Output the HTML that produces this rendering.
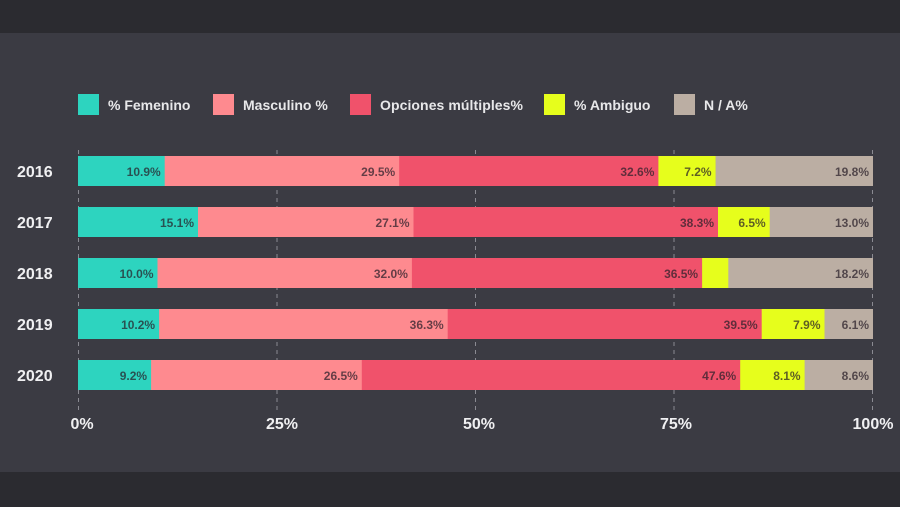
<!DOCTYPE html>
<html><head><meta charset="utf-8"><style>
html,body{margin:0;padding:0;background:#2b2b30;}
svg{display:block;font-family:"Liberation Sans",Arial,sans-serif;}
</style></head><body>
<svg width="900" height="507" viewBox="0 0 900 507">
<rect width="900" height="507" fill="#2b2b30"/>
<rect x="0" y="33" width="900" height="439" fill="#3b3b43"/>
<g font-size="14" font-weight="bold" fill="#e8e8ea">
<rect x="78" y="94" width="21" height="21" fill="#2dd4bf"/><text x="108" y="110">% Femenino</text>
<rect x="213" y="94" width="21" height="21" fill="#fe8a8f"/><text x="243" y="110">Masculino %</text>
<rect x="350" y="94" width="21" height="21" fill="#f0526b"/><text x="380" y="110" textLength="143">Opciones múltiples%</text>
<rect x="544" y="94" width="21" height="21" fill="#e6fe1c"/><text x="574" y="110">% Ambiguo</text>
<rect x="674" y="94" width="21" height="21" fill="#bbaea3"/><text x="704" y="110">N / A%</text>
</g>
<g stroke="#8a8a92" stroke-width="1" stroke-dasharray="4,4">
<line x1="78.5" y1="150" x2="78.5" y2="410"/><line x1="277" y1="150" x2="277" y2="410"/>
<line x1="475.5" y1="150" x2="475.5" y2="410"/><line x1="674" y1="150" x2="674" y2="410"/>
<line x1="872.5" y1="150" x2="872.5" y2="410"/>
</g>
<g font-size="16" font-weight="bold" fill="#f0f0f2" text-anchor="middle">
<text x="82" y="429">0%</text><text x="282" y="429">25%</text><text x="479" y="429">50%</text><text x="676" y="429">75%</text><text x="873" y="429">100%</text>
</g>
<g font-size="16" font-weight="bold" fill="#f0f0f2">
<text x="17" y="177">2016</text><text x="17" y="228">2017</text><text x="17" y="279">2018</text><text x="17" y="330">2019</text><text x="17" y="381">2020</text>
</g>
<g>
<rect x="78" y="156" width="87" height="30" fill="#2dd4bf"/><rect x="164.7" y="156" width="235" height="30" fill="#fe8a8f"/><rect x="399.2" y="156" width="259.5" height="30" fill="#f0526b"/><rect x="658.4" y="156" width="57.5" height="30" fill="#e6fe1c"/><rect x="715.6" y="156" width="157.4" height="30" fill="#bbaea3"/>
<rect x="78" y="207" width="120.5" height="30" fill="#2dd4bf"/><rect x="198" y="207" width="216" height="30" fill="#fe8a8f"/><rect x="413.5" y="207" width="305" height="30" fill="#f0526b"/><rect x="718" y="207" width="52" height="30" fill="#e6fe1c"/><rect x="769.7" y="207" width="103.3" height="30" fill="#bbaea3"/>
<rect x="78" y="258" width="80" height="30" fill="#2dd4bf"/><rect x="157.5" y="258" width="255" height="30" fill="#fe8a8f"/><rect x="411.9" y="258" width="290.5" height="30" fill="#f0526b"/><rect x="702.1" y="258" width="26.5" height="30" fill="#e6fe1c"/><rect x="728.3" y="258" width="144.7" height="30" fill="#bbaea3"/>
<rect x="78" y="309" width="81.5" height="30" fill="#2dd4bf"/><rect x="159.1" y="309" width="289" height="30" fill="#fe8a8f"/><rect x="447.7" y="309" width="314.5" height="30" fill="#f0526b"/><rect x="761.7" y="309" width="63.2" height="30" fill="#e6fe1c"/><rect x="824.5" y="309" width="48.5" height="30" fill="#bbaea3"/>
<rect x="78" y="360" width="73.5" height="30" fill="#2dd4bf"/><rect x="151.1" y="360" width="211" height="30" fill="#fe8a8f"/><rect x="361.8" y="360" width="378.8" height="30" fill="#f0526b"/><rect x="740.2" y="360" width="64.8" height="30" fill="#e6fe1c"/><rect x="804.6" y="360" width="68.4" height="30" fill="#bbaea3"/>
</g>
<g font-size="12" font-weight="bold" text-anchor="end" fill="rgba(40,30,40,0.72)">
<text x="160.7" y="176">10.9%</text><text x="395.2" y="176">29.5%</text><text x="654.4" y="176">32.6%</text><text x="711.6" y="176">7.2%</text><text x="869" y="176">19.8%</text>
<text x="194" y="227">15.1%</text><text x="409.5" y="227">27.1%</text><text x="714" y="227">38.3%</text><text x="765.7" y="227">6.5%</text><text x="869" y="227">13.0%</text>
<text x="153.5" y="278">10.0%</text><text x="407.9" y="278">32.0%</text><text x="698.1" y="278">36.5%</text><text x="869" y="278">18.2%</text>
<text x="155.1" y="329">10.2%</text><text x="443.7" y="329">36.3%</text><text x="757.7" y="329">39.5%</text><text x="820.5" y="329">7.9%</text><text x="869" y="329">6.1%</text>
<text x="147.1" y="380">9.2%</text><text x="357.8" y="380">26.5%</text><text x="736.2" y="380">47.6%</text><text x="800.6" y="380">8.1%</text><text x="869" y="380">8.6%</text>
</g>
</svg>
</body></html>
